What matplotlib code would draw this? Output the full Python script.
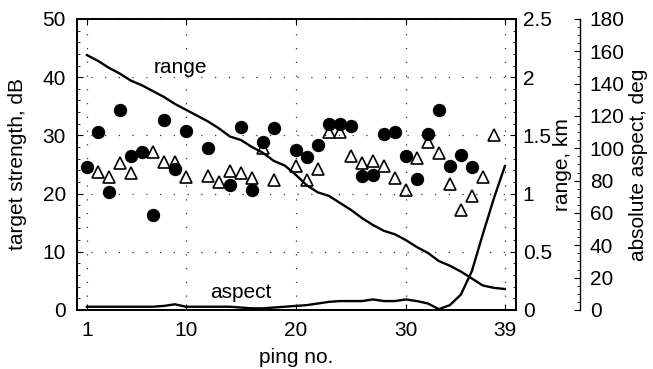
import numpy as np
import matplotlib.pyplot as plt
from matplotlib.ticker import MultipleLocator

plt.rcParams['font.family'] = ['Liberation Sans', 'DejaVu Sans']
plt.rcParams['font.size'] = 15

nan = np.nan
ping = np.arange(1, 40)

# target strength, dB (filled circles / open triangles)
ts_circle = [24.6, 30.6, 20.2, 34.4, 26.5, 27.2, 16.3, 32.6, 24.2, 30.8,
             nan, 27.9, nan, 21.5, 31.5, 20.6, 28.8, 31.3, nan, 27.5,
             26.3, 28.4, 31.9, 31.9, 31.6, 23.1, 23.2, 30.2, 30.5, 26.5,
             22.5, 30.2, 34.4, 24.8, 26.7, 24.5, nan, nan, nan]
ts_tri = [nan, 23.7, 22.8, 25.3, 23.5, nan, 27.2, 25.5, 25.4, 22.9,
          nan, 23.1, 22.0, 23.9, 23.5, 22.7, 27.9, 22.3, nan, 24.7,
          22.3, 24.2, 30.5, 30.5, 26.5, 25.2, 25.6, 24.8, 22.6, 20.6,
          26.1, 28.8, 26.9, 21.6, 17.2, 19.5, 22.9, 30.0, nan]

# range, km
range_km = [2.19, 2.14, 2.08, 2.03, 1.97, 1.93, 1.88, 1.83, 1.77, 1.72,
            1.67, 1.62, 1.56, 1.49, 1.46, 1.40, 1.35, 1.28, 1.24, 1.16,
            1.07, 1.01, 0.98, 0.92, 0.86, 0.79, 0.73, 0.68, 0.65, 0.60,
            0.54, 0.49, 0.42, 0.38, 0.33, 0.27, 0.21, 0.19, 0.18]

# absolute aspect, deg
aspect_deg = [2, 2, 2, 2, 2, 2, 2, 2.5, 3.5, 2,
              2, 2, 2, 2, 1.5, 1, 1, 1.5, 2, 2.5,
              3, 4, 5, 5.5, 5.5, 5.5, 6.5, 5.5, 5.5, 6.5,
              5.5, 4, 0.5, 3, 9.5, 24, 47, 69, 89]

xticks = [1, 10, 20, 30, 39]

fig = plt.figure(figsize=(6.53, 3.69), dpi=100)
ax = fig.add_axes([0.118, 0.16, 0.672, 0.7886])
ax2 = ax.twinx()
ax3 = ax.twinx()
ax3.spines['right'].set_position(('axes', 1.146))
for s in ['left', 'top', 'bottom']:
    ax3.spines[s].set_visible(False)

for a in (ax, ax2, ax3):
    a.set_zorder(1)
    a.patch.set_visible(False)
ax.set_zorder(3)

ax.plot(ping, ts_tri, linestyle='none', marker='^', markersize=9,
        markerfacecolor='none', markeredgecolor='black', markeredgewidth=1.2, zorder=3)
ax.plot(ping, ts_circle, linestyle='none', marker='o', markersize=8.6,
        color='black', zorder=4)
ax2.plot(ping, range_km, color='black', lw=1.7)
ax3.plot(ping, aspect_deg, color='black', lw=1.7)

ax.set_xlim(0.1, 40)
ax.set_ylim(0, 50)
ax2.set_ylim(0, 2.5)
ax3.set_ylim(0, 180)

ax.set_xticks(xticks)
ax.set_yticks(np.arange(0, 51, 10))
ax.yaxis.set_minor_locator(MultipleLocator(2))
ax2.set_yticks(np.arange(0, 2.6, 0.5))
ax2.set_yticklabels(['0', '0.5', '1', '1.5', '2', '2.5'])
ax2.yaxis.set_minor_locator(MultipleLocator(0.1))
ax3.set_yticks(np.arange(0, 181, 20))
ax3.yaxis.set_minor_locator(MultipleLocator(5))

ax.tick_params(axis='y', which='both', direction='in', left=True, right=False, pad=8)
ax.tick_params(axis='x', which='both', direction='in', top=True, pad=8)
ax.tick_params(which='major', length=4)
ax.tick_params(which='minor', length=2)
ax2.tick_params(which='both', direction='in', pad=5)
ax2.tick_params(which='major', length=4)
ax2.tick_params(which='minor', length=2)
ax3.tick_params(which='both', direction='in', pad=7)
ax3.tick_params(which='major', length=4)
ax3.tick_params(which='minor', length=2)

ax.grid(True, which='major', color='#333333', linestyle=(0, (1, 10)), lw=0.9)

for a in (ax, ax2):
    for s in a.spines.values():
        s.set_linewidth(1.3)
ax3.spines['right'].set_linewidth(1.0)

ax.text(9.45, 40.8, 'range', ha='center', va='baseline')
ax.text(15.0, 2.1, 'aspect', ha='center', va='baseline')

ax.set_xlabel('ping no.')
ax.xaxis.set_label_coords(0.5, -0.13)
ax.set_ylabel('target strength, dB')
ax.yaxis.set_label_coords(-0.113, 0.5)
ax2.set_ylabel('range, km')
ax2.yaxis.set_label_coords(1.084, 0.5)
ax3.set_ylabel('absolute aspect, deg')
ax3.yaxis.set_label_coords(1.2574, 0.5)

fig.savefig('out.png', dpi=100)
